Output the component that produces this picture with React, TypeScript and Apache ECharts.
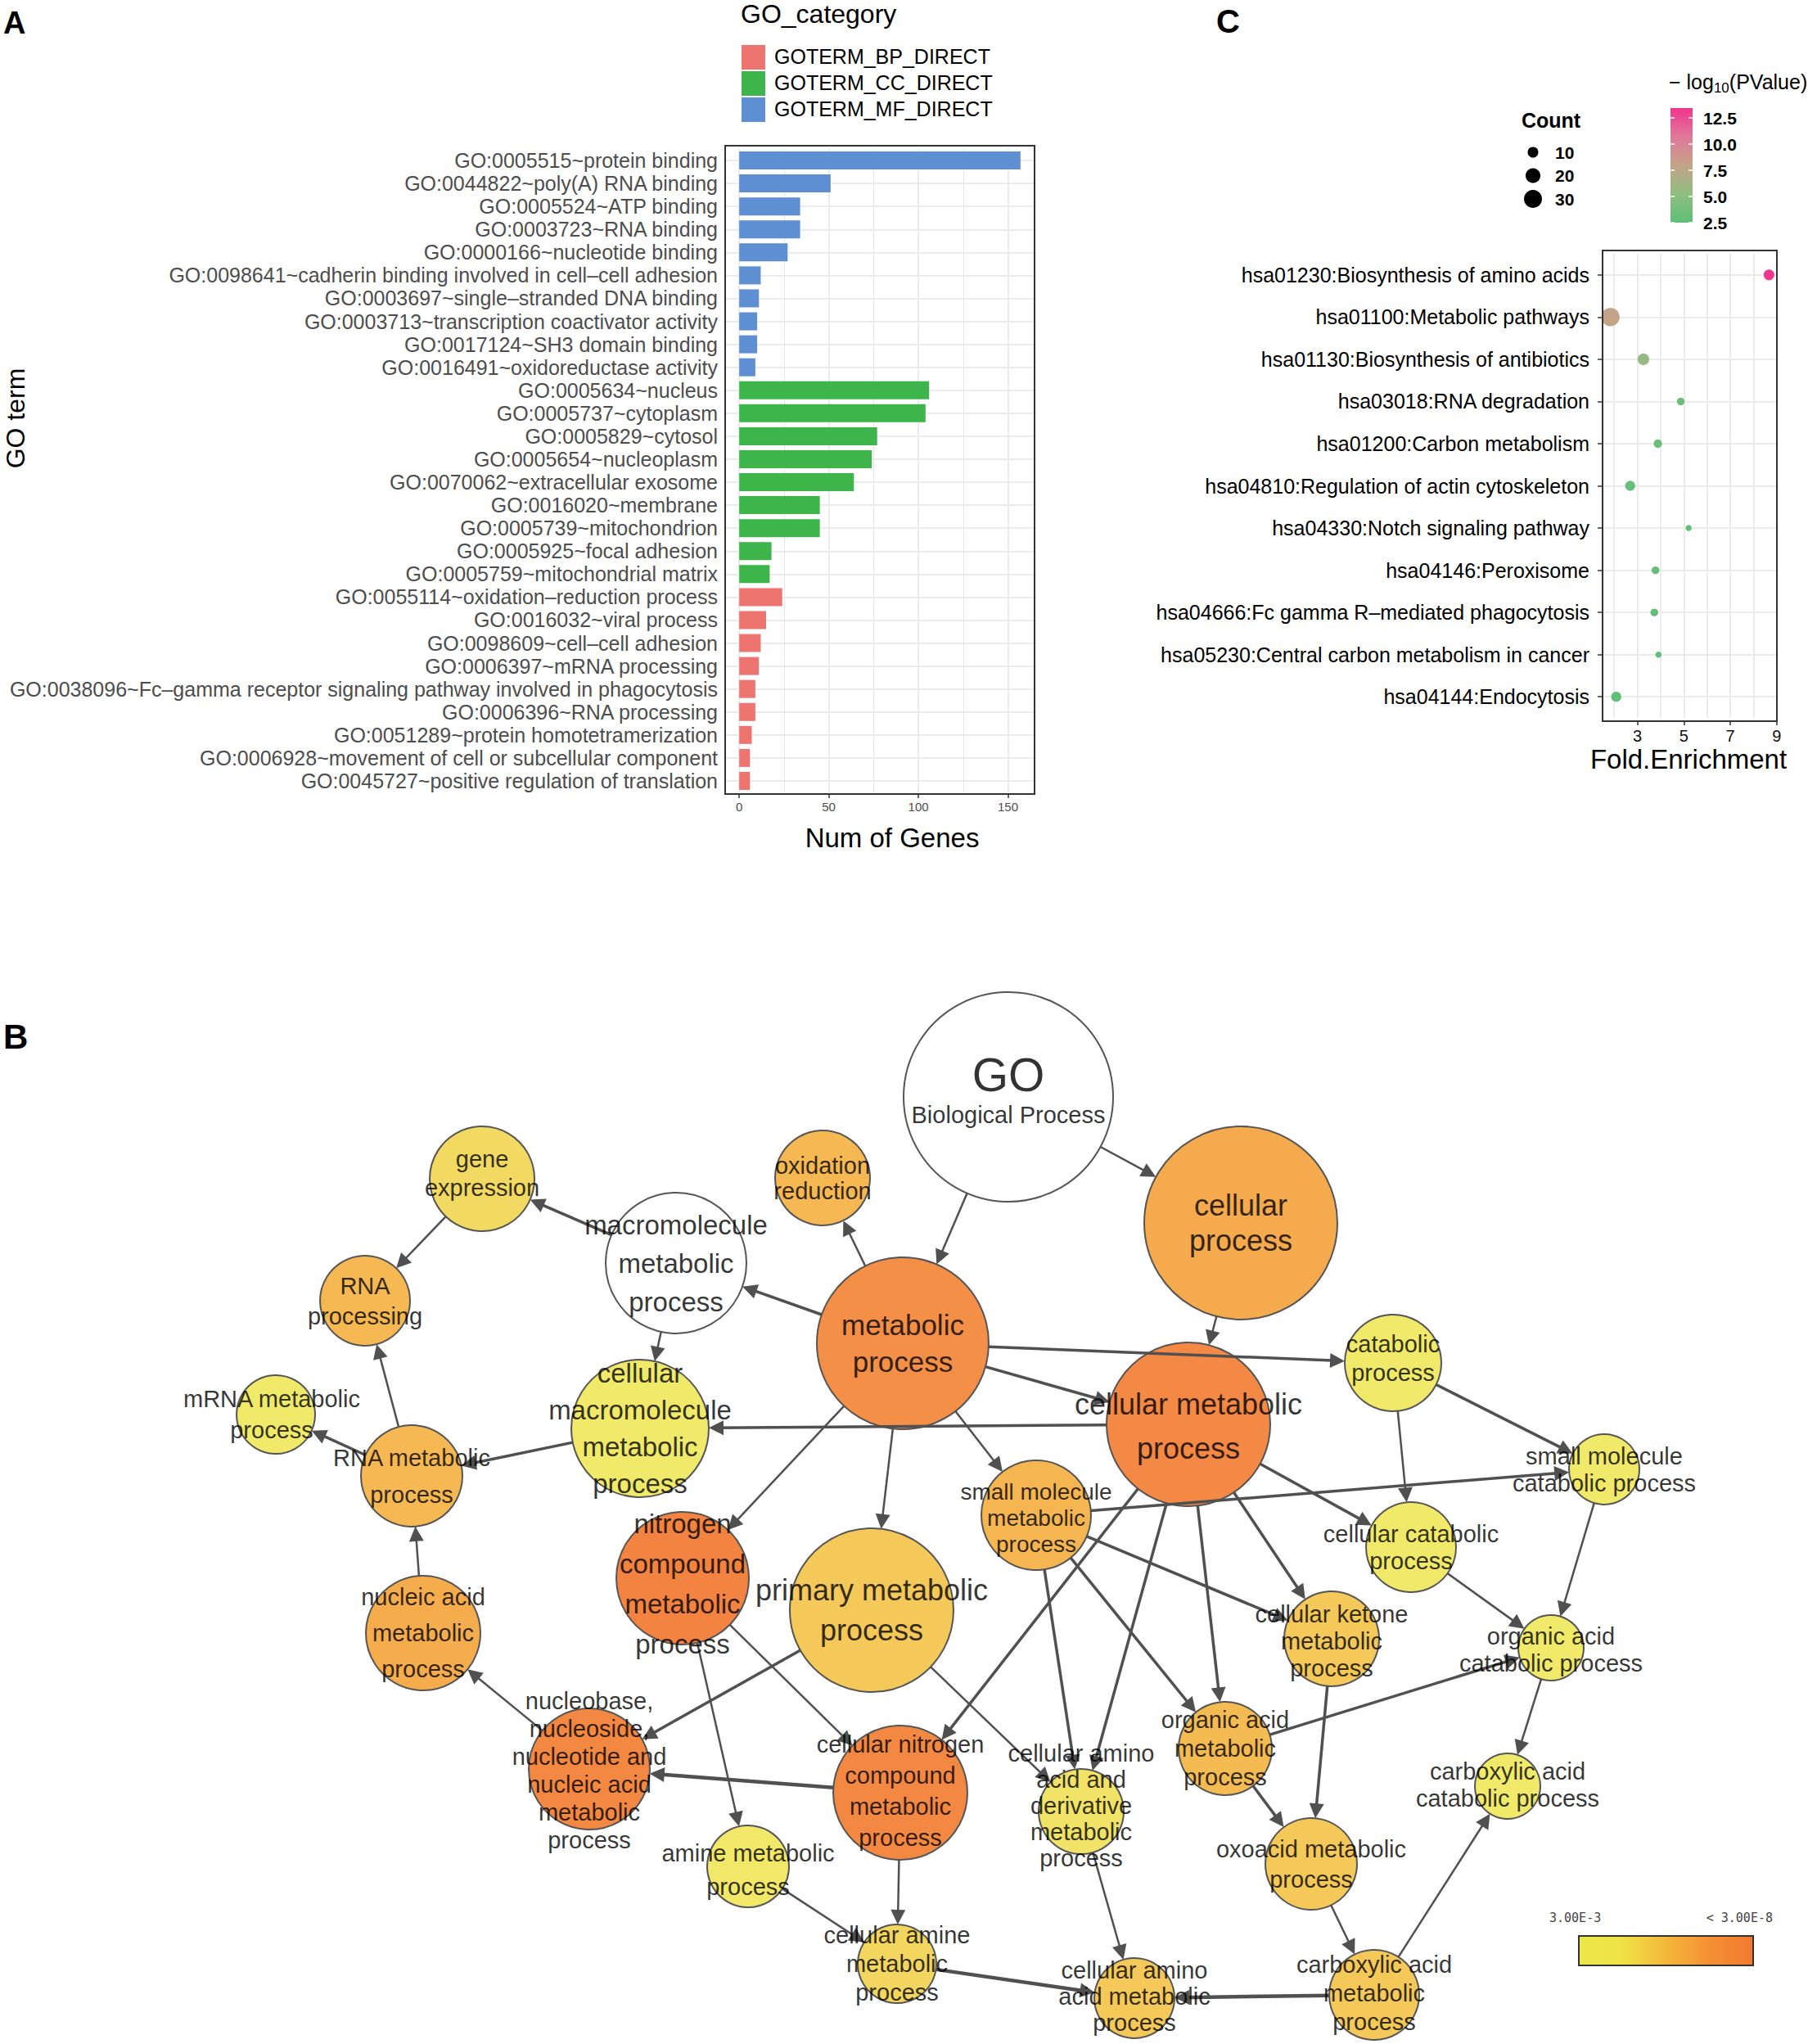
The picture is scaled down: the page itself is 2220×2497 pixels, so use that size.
import React, { useEffect, useRef } from "react";
import * as echarts from "echarts";

const W = 2220;
const H = 2497;
const FONT = '"Liberation Sans", Arial, Helvetica, sans-serif';
const MONO = '"DejaVu Sans Mono", "Liberation Mono", monospace';

// ================= Panel A : GO terms =================
const goTerms = [
  "GO:0005515~protein binding",
  "GO:0044822~poly(A) RNA binding",
  "GO:0005524~ATP binding",
  "GO:0003723~RNA binding",
  "GO:0000166~nucleotide binding",
  "GO:0098641~cadherin binding involved in cell\u2013cell adhesion",
  "GO:0003697~single\u2013stranded DNA binding",
  "GO:0003713~transcription coactivator activity",
  "GO:0017124~SH3 domain binding",
  "GO:0016491~oxidoreductase activity",
  "GO:0005634~nucleus",
  "GO:0005737~cytoplasm",
  "GO:0005829~cytosol",
  "GO:0005654~nucleoplasm",
  "GO:0070062~extracellular exosome",
  "GO:0016020~membrane",
  "GO:0005739~mitochondrion",
  "GO:0005925~focal adhesion",
  "GO:0005759~mitochondrial matrix",
  "GO:0055114~oxidation\u2013reduction process",
  "GO:0016032~viral process",
  "GO:0098609~cell\u2013cell adhesion",
  "GO:0006397~mRNA processing",
  "GO:0038096~Fc\u2013gamma receptor signaling pathway involved in phagocytosis",
  "GO:0006396~RNA processing",
  "GO:0051289~protein homotetramerization",
  "GO:0006928~movement of cell or subcellular component",
  "GO:0045727~positive regulation of translation",
];
const goCategory = [
  "MF", "MF", "MF", "MF", "MF", "MF", "MF", "MF", "MF", "MF",
  "CC", "CC", "CC", "CC", "CC", "CC", "CC", "CC", "CC",
  "BP", "BP", "BP", "BP", "BP", "BP", "BP", "BP", "BP",
];
const geneCounts = [
  157, 51, 34, 34, 27, 12, 11, 10, 10, 9,
  106, 104, 77, 74, 64, 45, 45, 18, 17,
  24, 15, 12, 11, 9, 9, 7, 6, 6,
];
const categoryKeys = ["BP", "CC", "MF"];
const categoryLabels = ["GOTERM_BP_DIRECT", "GOTERM_CC_DIRECT", "GOTERM_MF_DIRECT"];
const geneTicks = [0, 50, 100, 150];
const geneGridValues = [0, 25, 50, 75, 100, 125, 150];

// ================= Panel C : KEGG pathways =================
const pathways = [
  "hsa01230:Biosynthesis of amino acids",
  "hsa01100:Metabolic pathways",
  "hsa01130:Biosynthesis of antibiotics",
  "hsa03018:RNA degradation",
  "hsa01200:Carbon metabolism",
  "hsa04810:Regulation of actin cytoskeleton",
  "hsa04330:Notch signaling pathway",
  "hsa04146:Peroxisome",
  "hsa04666:Fc gamma R\u2013mediated phagocytosis",
  "hsa05230:Central carbon metabolism in cancer",
  "hsa04144:Endocytosis",
];
const foldEnrichment = [8.67, 1.84, 3.26, 4.87, 3.88, 2.69, 5.21, 3.78, 3.73, 3.91, 2.09];
const pathwayCounts = [10, 31, 12, 5, 6, 9, 3, 5, 5, 3, 9];
const pathwayLogP = [13.44, 7.9, 5.6, 3.3, 3.1, 3.0, 2.7, 2.9, 2.8, 2.6, 2.5];
const feTicks = [3, 5, 7, 9];
const feGridValues = [2, 3, 4, 5, 6, 7, 8];
const countBreaks = [10, 20, 30];
const logPBreaks = [2.5, 5.0, 7.5, 10.0, 12.5];

// ================= Panel B : BiNGO network =================
const bpTerms = [
  "GO Biological Process",
  "cellular process",
  "metabolic process",
  "cellular metabolic process",
  "catabolic process",
  "small molecule catabolic process",
  "cellular catabolic process",
  "small molecule metabolic process",
  "oxidation reduction",
  "macromolecule metabolic process",
  "gene expression",
  "RNA processing",
  "mRNA metabolic process",
  "RNA metabolic process",
  "cellular macromolecule metabolic process",
  "nitrogen compound metabolic process",
  "primary metabolic process",
  "nucleic acid metabolic process",
  "nucleobase, nucleoside, nucleotide and nucleic acid metabolic process",
  "cellular nitrogen compound metabolic process",
  "amine metabolic process",
  "cellular amine metabolic process",
  "cellular amino acid and derivative metabolic process",
  "cellular amino acid metabolic process",
  "carboxylic acid metabolic process",
  "oxoacid metabolic process",
  "organic acid metabolic process",
  "cellular ketone metabolic process",
  "organic acid catabolic process",
  "carboxylic acid catabolic process",
];
const bpLabels = [
  "{big|GO}\n{small|Biological Process}",
  "cellular\nprocess",
  "metabolic\nprocess",
  "cellular metabolic\nprocess",
  "catabolic\nprocess",
  "small molecule\ncatabolic process",
  "cellular catabolic\nprocess",
  "small molecule\nmetabolic\nprocess",
  "oxidation\nreduction",
  "macromolecule\nmetabolic\nprocess",
  "gene\nexpression",
  "RNA\nprocessing",
  "mRNA metabolic\nprocess",
  "RNA metabolic\nprocess",
  "cellular\nmacromolecule\nmetabolic\nprocess",
  "nitrogen\ncompound\nmetabolic\nprocess",
  "primary metabolic\nprocess",
  "nucleic acid\nmetabolic\nprocess",
  "nucleobase,\nnucleoside,\nnucleotide and\nnucleic acid\nmetabolic\nprocess",
  "cellular nitrogen\ncompound\nmetabolic\nprocess",
  "amine metabolic\nprocess",
  "cellular amine\nmetabolic\nprocess",
  "cellular amino\nacid and\nderivative\nmetabolic\nprocess",
  "cellular amino\nacid metabolic\nprocess",
  "carboxylic acid\nmetabolic\nprocess",
  "oxoacid metabolic\nprocess",
  "organic acid\nmetabolic\nprocess",
  "cellular ketone\nmetabolic\nprocess",
  "organic acid\ncatabolic process",
  "carboxylic acid\ncatabolic process",
];
// -log10(p); null = not significant (white)
const bpLogP = [
  null, 5.3, 6.6, 6.9, 2.6, 2.6, 2.6, 4.8, 4.7, null,
  3.3, 4.7, 2.6, 4.7, 2.6, 7.3, 4.1, 5.2, 7.0, 7.0,
  2.7, 3.5, 2.9, 4.1, 4.1, 4.1, 4.6, 4.1, 2.6, 2.6,
];
// parent -> child (indices into bpTerms)
const bpLinks = [
  [0, 2], [0, 1], [2, 8], [2, 9], [9, 10], [10, 11], [9, 14], [3, 14],
  [14, 13], [13, 12], [13, 11], [17, 13], [18, 17], [1, 3], [2, 3], [2, 4],
  [2, 7], [2, 15], [2, 16], [4, 5], [4, 6], [3, 6], [7, 5], [5, 28],
  [6, 28], [28, 29], [26, 28], [24, 29], [7, 27], [3, 27], [3, 26], [7, 26],
  [3, 22], [7, 22], [3, 19], [15, 19], [16, 22], [16, 18], [15, 20], [19, 18],
  [19, 21], [20, 21], [21, 23], [22, 23], [24, 23], [25, 24], [26, 25], [27, 25],
];
const pScaleLabels = ["3.00E-3", "< 3.00E-8"];
const pScaleLogP = [-Math.log10(3e-3), -Math.log10(3e-8)];

// ---------- layout / styles (network view coordinates, radii, label sizes) ----------
const bpLayout = [
  [1232, 1340, 128], [1516, 1494, 118], [1103, 1641, 105], [1452, 1740, 100],
  [1702, 1665, 59], [1960, 1795, 43], [1724, 1890, 55], [1266, 1851, 67],
  [1005, 1439, 58], [826, 1543, 86], [589, 1440, 64], [446, 1589, 55],
  [337, 1728, 48], [503, 1803, 62], [782, 1745, 84], [834, 1928, 81],
  [1065, 1967, 100], [517, 1995, 70], [720, 2161, 74], [1100, 2190, 82],
  [914, 2280, 50], [1096, 2399, 48], [1321, 2213, 52], [1386, 2441, 49],
  [1679, 2437, 55], [1602, 2277, 56], [1497, 2136, 57], [1627, 2002, 58],
  [1895, 2013, 40], [1842, 2182, 40],
];
const bpFont = [
  [29, 34], [36, 43], [35, 45], [36, 54], [29, 35], [29, 33], [29, 33], [28, 32],
  [29, 31], [33, 47], [29, 35], [29, 37], [29, 38], [29, 45], [33, 45], [33, 49],
  [36, 49], [29, 44], [29, 34], [29, 38], [29, 41], [29, 35], [29, 32], [29, 32],
  [29, 35], [29, 37], [29, 35], [29, 33], [29, 33], [29, 33],
];
const bpLabelShift = [
  [0, -9], [0, 0], [0, 0], [0, 2], [0, -6], [0, 0], [0, 0], [0, 3],
  [0, 0], [0, 0], [0, -7], [0, 0], [-5, 0], [0, 0], [0, 0], [0, 7],
  [0, 0], [0, 0], [0, 2], [0, -2], [0, 4], [0, 0], [0, -7], [0, -2],
  [0, -2], [0, 0], [0, 0], [0, 3], [0, 2], [0, -2],
];
const bpLinkWidth = [
  2.5, 2.5, 2.5, 3.5, 3.5, 2.5, 2.5, 3.5,
  3.5, 3.5, 2.5, 2.5, 2.5, 2.5, 3.5, 3.5,
  2.5, 2.5, 2.5, 3.5, 2.5, 3.5, 3.5, 2.5,
  2.5, 2.5, 3.5, 2.5, 3.5, 3.5, 3.5, 3.5,
  3.5, 3.5, 3.5, 2.5, 2.5, 3.5, 2.5, 4.5,
  2.5, 2.5, 4.5, 2.5, 4.5, 2.5, 3.5, 3.5,
];

const catColor: Record<string, string> = { BP: "#ee7470", CC: "#3db54b", MF: "#5d8fd2" };
const logPColors = ["#5ebf77", "#8fbe82", "#c4a388", "#e0789a", "#f2358d"];
const nodePalette = ["#f0eb6b", "#f4d05d", "#f5b04e", "#f4944a", "#f27f3e"];
const legendPalette = ["#ece84a", "#efe245", "#f4b83b", "#f58f33", "#f27a2f"];
const ARROW = 18;

const dotSize = (c: number) => 0.7 + 3.9 * Math.sqrt(c);

function nodeColor(lp: number | null) {
  if (lp == null) return "#ffffff";
  let t = (lp - pScaleLogP[0]) / (pScaleLogP[1] - pScaleLogP[0]);
  t = Math.max(0, Math.min(1, t));
  return echarts.color.lerp(t, nodePalette);
}

function txt(text: string, x: number, y: number, size: number, o: any = {}) {
  const align = o.align || "left";
  return {
    type: "text",
    x,
    y,
    z: 100,
    rotation: o.rot || 0,
    style: {
      text,
      fontSize: size,
      fontFamily: o.family || FONT,
      fontWeight: o.weight || "normal",
      fill: o.color || "#000",
      align,
      verticalAlign: "middle",
      textAlign: align,
      textVerticalAlign: "middle",
      rich: o.rich,
    },
  };
}

function buildOption() {
  const gfx: any[] = [];
  // panel letters
  gfx.push(txt("A", 4, 28, 38, { weight: "bold" }));
  gfx.push(txt("C", 1486, 26, 40, { weight: "bold" }));
  gfx.push(txt("B", 4, 1266, 42, { weight: "bold" }));

  // ---- Panel A decorations ----
  gfx.push({ type: "rect", z: 50, shape: { x: 886, y: 178, width: 378, height: 792 }, style: { fill: "none", stroke: "#333", lineWidth: 2 } });
  gfx.push(txt("GO_category", 905, 17, 32));
  categoryKeys.forEach((k, i) => {
    gfx.push({ type: "rect", z: 100, shape: { x: 906, y: 55 + 32 * i, width: 29, height: 30 }, style: { fill: catColor[k] } });
    gfx.push(txt(categoryLabels[i], 946, 69 + 32 * i, 25));
  });
  gfx.push(txt("Num of Genes", 1090, 1023, 33, { align: "center" }));
  gfx.push(txt("GO term", 19, 511, 32, { align: "center", rot: Math.PI / 2 }));

  // ---- Panel C decorations ----
  gfx.push({ type: "rect", z: 50, shape: { x: 1958, y: 306, width: 213, height: 575 }, style: { fill: "none", stroke: "#333", lineWidth: 2 } });
  gfx.push(txt("Fold.Enrichment", 2063, 927, 33, { align: "center" }));
  gfx.push(txt("Count", 1859, 147, 25, { weight: "bold" }));
  countBreaks.forEach((c, i) => {
    const cy = 186 + 28.5 * i;
    gfx.push({ type: "circle", z: 100, shape: { cx: 1873, cy, r: dotSize(c) / 2 }, style: { fill: "#000" } });
    gfx.push(txt(String(c), 1900, cy, 21, { weight: "bold" }));
  });
  gfx.push(
    txt("{n|\u2212 log}{s|10}{n|(PValue)}", 2039, 100, 25, {
      rich: {
        n: { fontSize: 25, fontFamily: FONT, fill: "#000", lineHeight: 32, verticalAlign: "middle" },
        s: { fontSize: 17, fontFamily: FONT, fill: "#000", lineHeight: 32, verticalAlign: "bottom" },
      },
    })
  );
  const cbTop = 132, cbH = 140, cbX = 2041, cbW = 27;
  const lpMin = Math.min(...pathwayLogP), lpMax = Math.max(...pathwayLogP);
  gfx.push({
    type: "rect",
    z: 100,
    shape: { x: cbX, y: cbTop, width: cbW, height: cbH },
    style: {
      fill: new echarts.graphic.LinearGradient(0, 1, 0, 0,
        logPColors.map((c, i) => ({ offset: i / (logPColors.length - 1), color: c }))),
    },
  });
  logPBreaks.forEach((b) => {
    const y = cbTop + cbH - ((b - lpMin) / (lpMax - lpMin)) * cbH;
    gfx.push({ type: "line", z: 101, shape: { x1: cbX, y1: y, x2: cbX + 5, y2: y }, style: { stroke: "#fff", lineWidth: 1.5 } });
    gfx.push({ type: "line", z: 101, shape: { x1: cbX + cbW - 5, y1: y, x2: cbX + cbW, y2: y }, style: { stroke: "#fff", lineWidth: 1.5 } });
    gfx.push(txt(b.toFixed(1), 2081, y, 21, { weight: "bold" }));
  });

  // ---- Panel B legend ----
  gfx.push({
    type: "rect",
    z: 100,
    shape: { x: 1929, y: 2365, width: 213, height: 36 },
    style: {
      fill: new echarts.graphic.LinearGradient(0, 0, 1, 0,
        legendPalette.map((c, i) => ({ offset: i / (legendPalette.length - 1), color: c }))),
      stroke: "#333",
      lineWidth: 2,
    },
  });
  gfx.push(txt(pScaleLabels[0], 1893, 2343, 15, { family: MONO, color: "#444" }));
  gfx.push(txt(pScaleLabels[1], 2166, 2343, 15, { family: MONO, color: "#444", align: "right" }));

  // ---- network edges (shortened to node borders) ----
  const edgeData = bpLinks.map(([s, t], i) => {
    const a = bpLayout[s], b = bpLayout[t];
    const dx = b[0] - a[0], dy = b[1] - a[1];
    const d = Math.hypot(dx, dy);
    const ux = dx / d, uy = dy / d;
    const endOff = b[2] + ARROW / 2;
    return {
      coords: [
        [a[0] + ux * a[2], a[1] + uy * a[2]],
        [b[0] - ux * endOff, b[1] - uy * endOff],
      ],
      lineStyle: { width: bpLinkWidth[i] },
    };
  });

  return {
    animation: false,
    backgroundColor: "#ffffff",
    textStyle: { fontFamily: FONT },
    grid: [
      { left: 886, top: 182, width: 378, height: 786 },
      { left: 1958, top: 310, width: 213, height: 567 },
      { left: 0, top: 0, width: W, height: H },
    ],
    xAxis: [
      {
        type: "value", gridIndex: 0, min: -7.85, max: 164.85, offset: 2,
        axisLine: { show: false }, splitLine: { show: false },
        axisTick: { show: true, length: 5, customValues: geneTicks, lineStyle: { color: "#333", width: 1.5 } },
        axisLabel: { customValues: geneTicks, fontSize: 15, color: "#4d4d4d", margin: 8, fontFamily: FONT },
      },
      {
        type: "value", gridIndex: 1, min: 1.5, max: 9.01, offset: 4,
        axisLine: { show: false }, splitLine: { show: false },
        axisTick: { show: true, length: 5, customValues: feTicks, lineStyle: { color: "#333", width: 1.5 } },
        axisLabel: { customValues: feTicks, fontSize: 20, color: "#111", margin: 8, fontFamily: FONT },
      },
      { type: "value", gridIndex: 2, min: 0, max: W, show: false },
    ],
    yAxis: [
      {
        type: "category", gridIndex: 0, data: goTerms, inverse: true,
        axisLine: { show: false }, splitLine: { show: false },
        axisTick: { show: true, alignWithLabel: true, length: 5, lineStyle: { color: "#333", width: 1.5 } },
        axisLabel: { interval: 0, fontSize: 25, color: "#4d4d4d", margin: 9, fontFamily: FONT },
      },
      {
        type: "category", gridIndex: 1, data: pathways, inverse: true,
        axisLine: { show: false }, splitLine: { show: false },
        axisTick: { show: true, alignWithLabel: true, length: 6, lineStyle: { color: "#333", width: 1.5 } },
        axisLabel: { interval: 0, fontSize: 25, color: "#000", margin: 16, fontFamily: FONT },
      },
      { type: "value", gridIndex: 2, min: 0, max: H, inverse: true, show: false },
    ],
    visualMap: [
      {
        type: "continuous", show: false, seriesIndex: 3, dimension: 2,
        min: lpMin, max: lpMax, inRange: { color: logPColors },
      },
    ],
    graphic: gfx,
    series: [
      {
        type: "line", xAxisIndex: 0, yAxisIndex: 0, data: [], z: 1, silent: true,
        markLine: {
          z: 1, silent: true, symbol: ["none", "none"], label: { show: false }, animation: false,
          lineStyle: { type: "solid" }, emphasis: { disabled: true },
          data: [
            ...geneGridValues.map((v) => ({ xAxis: v, lineStyle: { color: "#e6e6e6", width: v % 50 === 0 ? 1.6 : 1, type: "solid" } })),
            ...goTerms.map((_, i) => ({ yAxis: i, lineStyle: { color: "#ebebeb", width: 1.8, type: "solid" } })),
          ],
        },
      },
      {
        type: "bar", xAxisIndex: 0, yAxisIndex: 0, z: 10, barWidth: 22, silent: true,
        data: geneCounts.map((v, i) => ({ value: v, itemStyle: { color: catColor[goCategory[i]] } })),
      },
      {
        type: "line", xAxisIndex: 1, yAxisIndex: 1, data: [], z: 1, silent: true,
        markLine: {
          z: 1, silent: true, symbol: ["none", "none"], label: { show: false }, animation: false,
          lineStyle: { type: "solid" }, emphasis: { disabled: true },
          data: [
            ...feGridValues.map((v) => ({ xAxis: v, lineStyle: { color: "#e6e6e6", width: 1.6, type: "solid" } })),
            ...pathways.map((_, i) => ({ yAxis: i, lineStyle: { color: "#ebebeb", width: 1.8, type: "solid" } })),
          ],
        },
      },
      {
        type: "scatter", xAxisIndex: 1, yAxisIndex: 1, z: 10, silent: true,
        symbolSize: (val: number[]) => dotSize(val[3]),
        itemStyle: { opacity: 1 },
        data: pathways.map((_, i) => [foldEnrichment[i], i, pathwayLogP[i], pathwayCounts[i]]),
      },
      {
        type: "graph", coordinateSystem: "cartesian2d", xAxisIndex: 2, yAxisIndex: 2, z: 2,
        silent: true, symbol: "circle",
        itemStyle: { borderColor: "#555", borderWidth: 2 },
        label: { show: false },
        emphasis: { disabled: true },
        data: bpTerms.map((name, i) => ({
          name,
          value: [bpLayout[i][0], bpLayout[i][1]],
          symbolSize: bpLayout[i][2] * 2,
          itemStyle: { color: nodeColor(bpLogP[i]) },
        })),
        links: [],
      },
      {
        type: "lines", coordinateSystem: "cartesian2d", xAxisIndex: 2, yAxisIndex: 2, z: 3,
        silent: true, symbol: ["none", "triangle"], symbolSize: ARROW,
        lineStyle: { color: "#505050", opacity: 1, width: 2.5, curveness: 0 },
        data: edgeData,
      },
      {
        type: "scatter", xAxisIndex: 2, yAxisIndex: 2, z: 4, silent: true,
        symbol: "circle", symbolSize: 1, itemStyle: { color: "rgba(0,0,0,0)" },
        label: {
          show: true, position: "inside", color: "#000", fontFamily: FONT, textBorderWidth: 0,
          rich: {
            big: { fontSize: 57, lineHeight: 62, fontFamily: FONT, color: "#000" },
            small: { fontSize: 29, lineHeight: 36, fontFamily: FONT, color: "#000" },
          },
        },
        data: bpTerms.map((_, i) => ({
          value: [bpLayout[i][0], bpLayout[i][1]],
          label: {
            formatter: bpLabels[i],
            fontSize: bpFont[i][0],
            lineHeight: bpFont[i][1],
            offset: bpLabelShift[i],
          },
        })),
      },
    ],
  };
}

export default function App() {
  const ref = useRef<HTMLDivElement>(null);
  useEffect(() => {
    document.body.style.margin = "0";
    const chart = echarts.init(ref.current as HTMLDivElement, null, { renderer: "svg", width: W, height: H });
    chart.setOption(buildOption() as any);
    return () => chart.dispose();
  }, []);
  return (
    <div
      ref={ref}
      style={{ position: "absolute", left: 0, top: 0, width: W, height: H, background: "#fff" }}
    />
  );
}
